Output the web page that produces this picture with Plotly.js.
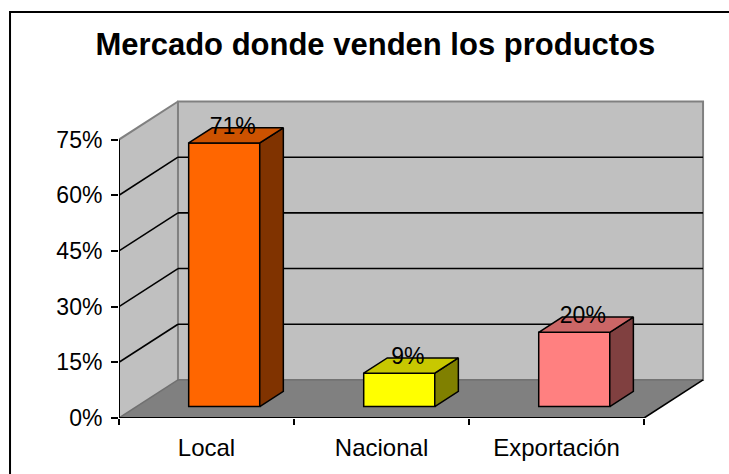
<!DOCTYPE html>
<html><head><meta charset="utf-8">
<script src="https://cdn.plot.ly/plotly-3.0.1.min.js"></script>
<style>html,body{margin:0;padding:0;background:#fff}</style>
</head><body>
<div id="chart" style="width:729px;height:474px"></div>
<script>
const categories = ['Local', 'Nacional', 'Exportación'];
const values = [71, 9, 20];
const labels = ['71%', '9%', '20%'];
const yTickVals = [0, 15, 30, 45, 60, 75];
const yTickText = ['0%', '15%', '30%', '45%', '60%', '75%'];
const frontColors = ['#FF6600', '#FFFF00', '#FF8080'];
const topColors = ['#CC5200', '#C8C800', '#CC6666'];
const sideColors = ['#803300', '#808000', '#804040'];

// 3D box geometry in axis units
const DX = 0.337, DY = 10.25;   // full depth of the plot box
const F0 = 0.3, F1 = 0.7;       // bar front / back depth fractions
const W = 0.406;                // bar width
const n = categories.length;
const xa = -0.5;
const yMax = yTickVals[yTickVals.length - 1];
const xs = categories.map((c, i) => i);

const traces = [];
traces.push({
  type: 'bar', x: xs.map(i => i + F0 * DX), y: values, base: F0 * DY, width: W,
  marker: {color: frontColors, line: {color: '#000', width: 1.5}},
  hoverinfo: 'skip', showlegend: false
});
const ddx = (F1 - F0) * DX, ddy = (F1 - F0) * DY;
xs.forEach(i => {
  const xl = i + F0 * DX - W / 2, xr = xl + W, yb = F0 * DY, yt = values[i] + yb;
  traces.push({
    type: 'scatter', mode: 'lines', fill: 'toself', fillcolor: sideColors[i],
    x: [xr, xr, xr + ddx, xr + ddx, xr], y: [yb, yt, yt + ddy, yb + ddy, yb],
    line: {color: '#000', width: 1.5}, hoverinfo: 'skip', showlegend: false
  });
  traces.push({
    type: 'scatter', mode: 'lines', fill: 'toself', fillcolor: topColors[i],
    x: [xl, xr, xr + ddx, xl + ddx, xl], y: [yt, yt, yt + ddy, yt + ddy, yt],
    line: {color: '#000', width: 1.5}, hoverinfo: 'skip', showlegend: false
  });
});
traces.push({
  type: 'scatter', mode: 'text', x: xs.map(i => i + F0 * DX + 0.049),
  y: values.map(v => v + F0 * DY + 4.0), text: labels, textposition: 'middle center',
  textfont: {family: 'Liberation Sans, Arial, sans-serif', size: 23, color: '#000'},
  hoverinfo: 'skip', showlegend: false
});

const shapes = [];
const L = (x0, y0, x1, y1, color, width) => shapes.push({type: 'line', xref: 'x', yref: 'y', x0, y0, x1, y1, layer: 'below', line: {color, width}});
// left wall
shapes.push({type: 'path', xref: 'x', yref: 'y', layer: 'below',
  path: `M${xa},0 L${xa},${yMax} L${xa + DX},${yMax + DY} L${xa + DX},${DY} Z`,
  fillcolor: '#C0C0C0', line: {width: 0}});
// back wall
shapes.push({type: 'rect', xref: 'x', yref: 'y', layer: 'below',
  x0: xa + DX, x1: xa + DX + n, y0: DY, y1: yMax + DY,
  fillcolor: '#C0C0C0', line: {color: '#808080', width: 2}});
// floor
shapes.push({type: 'path', xref: 'x', yref: 'y', layer: 'below',
  path: `M${xa},0 L${xa + n},0 L${xa + n + DX},${DY} L${xa + DX},${DY} Z`,
  fillcolor: '#808080', line: {width: 0}});
// gridlines
yTickVals.forEach(v => {
  if (v > 0 && v < yMax) {
    L(xa + DX, v + DY, xa + DX + n, v + DY, '#000', 1.6);
    L(xa, v, xa + DX, v + DY, '#000', 1.6);
  }
});
L(xa, 0, xa + DX, DY, '#707070', 1.5);
L(xa, yMax, xa + DX, yMax + DY, '#808080', 2);
L(xa + DX, DY, xa + DX + n, DY, '#6a6a6a', 1);
L(xa, 0, xa, yMax, '#000', 2);
L(xa, 0, xa + n, 0, '#000', 2);
L(xa + n, 0, xa + n + DX, DY, '#000', 1.6);
// outer chart border
shapes.push({type: 'rect', xref: 'paper', yref: 'paper', x0: -0.1847, x1: 1.5, y0: -0.5, y1: 1.257,
  line: {color: '#000', width: 2}, fillcolor: 'rgba(0,0,0,0)'});

const font = 'Liberation Sans, Arial, sans-serif';
const layout = {
  width: 729, height: 474,
  margin: {l: 119, r: 20, t: 95, b: 56, pad: 0},
  paper_bgcolor: '#fff', plot_bgcolor: '#fff',
  showlegend: false,
  title: {text: '<b>Mercado donde venden los productos</b>', xref: 'container', yref: 'container',
    x: 0.515, xanchor: 'center', y: 0.907, yanchor: 'middle',
    font: {family: font, size: 31, color: '#000'}},
  xaxis: {range: [xa, xa + n + 0.371], tickvals: xs, ticktext: categories,
    ticks: 'outside', ticklen: 8, tickcolor: 'rgba(0,0,0,0)',
    minor: {tick0: -0.5, dtick: 1, ticks: 'outside', ticklen: 6, tickcolor: '#000', tickwidth: 2, showgrid: false},
    showgrid: false, zeroline: false, showline: false, fixedrange: true,
    tickfont: {family: font, size: 24, color: '#000'}},
  yaxis: {range: [0, 87], tickvals: yTickVals, ticktext: yTickText,
    ticks: 'outside', ticklen: 7, tickcolor: '#000', tickwidth: 2, ticklabelstandoff: 4,
    showgrid: false, zeroline: false, showline: false, fixedrange: true,
    tickfont: {family: font, size: 23, color: '#000'}},
  shapes: shapes
};
Plotly.newPlot('chart', traces, layout, {displayModeBar: false, staticPlot: true});
</script>
</body></html>
